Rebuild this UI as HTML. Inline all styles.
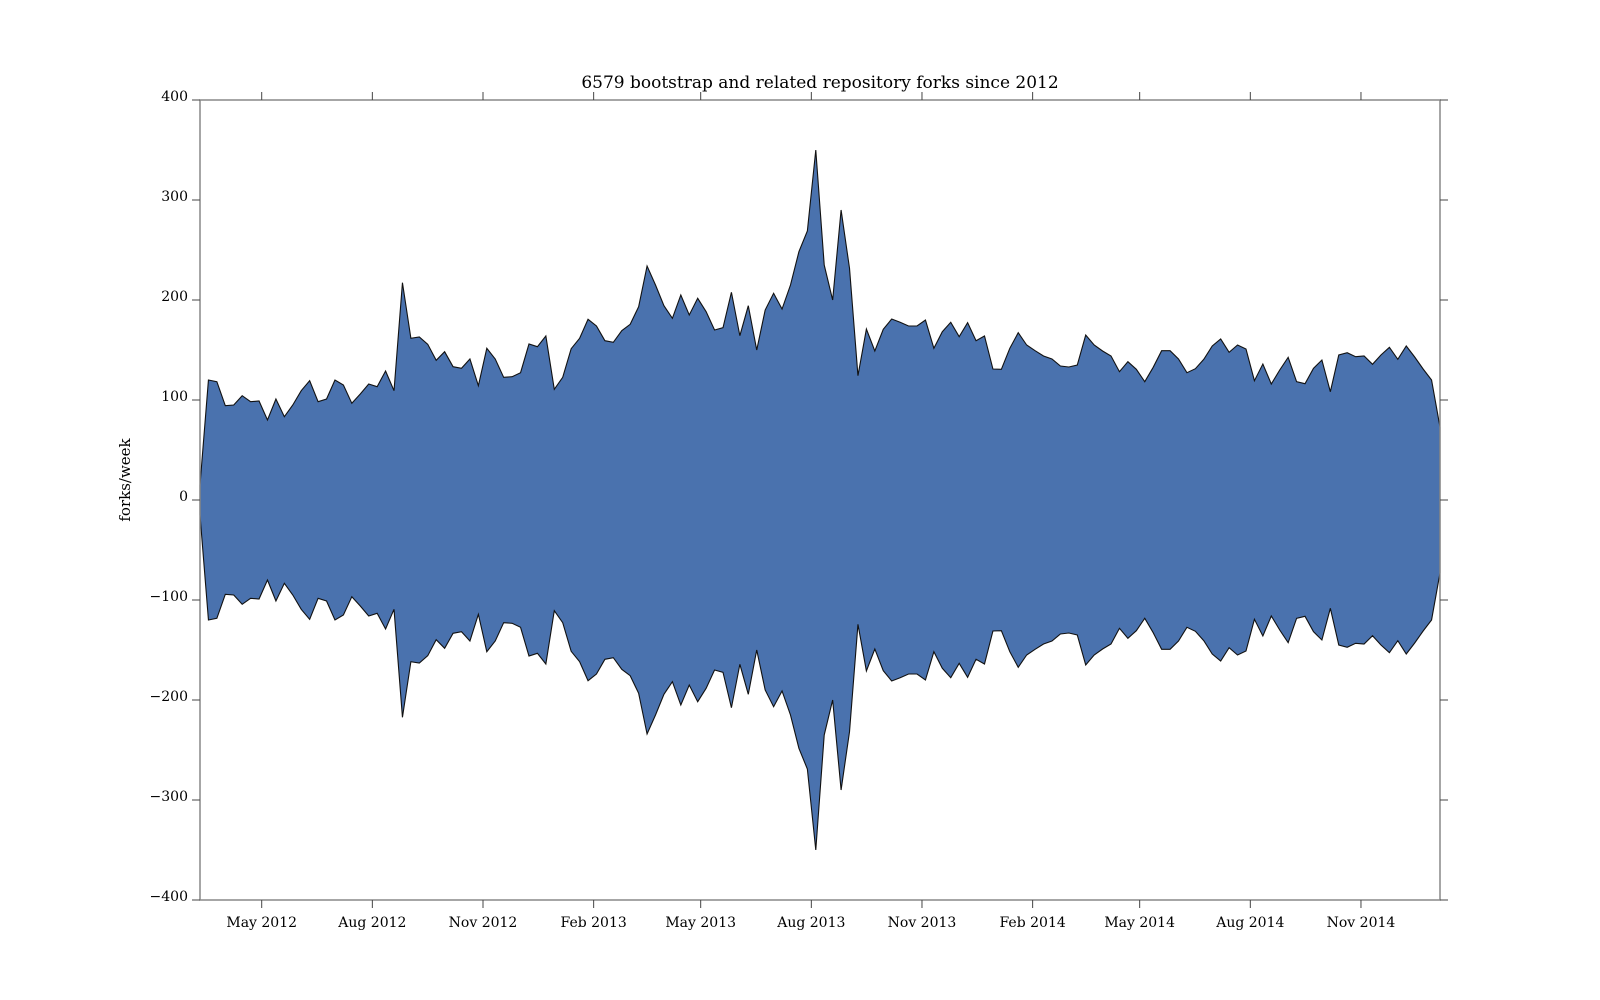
<!DOCTYPE html>
<html><head><meta charset="utf-8"><style>
body{margin:0;background:#fff;}
svg{display:block;font-family:"DejaVu Serif","Liberation Serif",serif;}
</style></head><body>
<svg id="chart" width="1600" height="1000" xmlns="http://www.w3.org/2000/svg">
<text x="820" y="88" text-anchor="middle" font-size="17">6579 bootstrap and related repository forks since 2012</text>
<text x="0" y="0" transform="translate(130,480) rotate(-90)" text-anchor="middle" font-size="15">forks/week</text>
<g id="plot"></g>
</svg>
<script>
const weeklyHalf = [15,120,118.3,94.3,95,104.3,98.3,99,80,101,83.3,95,109.3,119.3,98.3,101,120,115,96.7,106,116,113.3,129,109.3,217.3,161.7,163,155.7,139.7,148.3,133.3,131.7,141,114.3,151.7,141,122.7,123.3,127.3,156,153.3,164,110.7,122.7,151.3,161.7,180.7,174,159.3,157.7,169.3,175.7,193.3,234,215,194.3,181.7,205,185,201.7,188.3,170,172.3,207.7,164.3,194.3,150,190,206.7,191,215,248.3,269,350,235,200,290,231.7,124.3,171,149,170.7,181,177.7,174,174,180,151.7,168.3,177.7,163.3,177.3,159.3,164,131,130.7,151.7,167.3,155,149.3,144,141,134,133,135,165,155,149,144,128.3,138.3,130.7,118.3,132.7,149.3,149.3,141,127.3,131.3,140.7,154,161,147.7,155,151,119.3,136,116,130,142.7,118.3,116.3,131.7,140,108.3,145,147.3,143.3,144,135.7,145,152.7,140.7,154,143,131,120,73];
const yTicks = [400,300,200,100,0,-100,-200,-300,-400];
const xTickLabels = ["May 2012","Aug 2012","Nov 2012","Feb 2013","May 2013","Aug 2013","Nov 2013","Feb 2014","May 2014","Aug 2014","Nov 2014"];
const xTickDates = ["2012-05-01","2012-08-01","2012-11-01","2013-02-01","2013-05-01","2013-08-01","2013-11-01","2014-02-01","2014-05-01","2014-08-01","2014-11-01"];

const L=200,R=1440,T=100,B=900;
const NS="http://www.w3.org/2000/svg";
const g=document.getElementById('plot');
const yS=v=>500-v*(B-T)/800;
const xI=i=>L+i*(R-L)/(weeklyHalf.length-1);
const day0=Date.UTC(2012,4,1);
const xD=s=>{const p=s.split('-');return 261.7+(Date.UTC(+p[0],+p[1]-1,+p[2])-day0)/86400000*1.2027;};
function mk(tag,attrs){const e=document.createElementNS(NS,tag);for(const k in attrs)e.setAttribute(k,attrs[k]);g.appendChild(e);return e;}

let pts=weeklyHalf.map((v,i)=>xI(i).toFixed(2)+','+yS(v).toFixed(2));
let bot=weeklyHalf.map((v,i)=>xI(i).toFixed(2)+','+yS(-v).toFixed(2)).reverse();
const area=mk('polygon',{points:pts.concat(bot).join(' '),fill:'#4a72ae',stroke:'#111','stroke-width':1.1,'stroke-linejoin':'miter'});



const frame=mk('rect',{x:L,y:T,width:R-L,height:B-T,fill:'none',stroke:'#888','stroke-width':1.5});



yTicks.forEach(v=>{
  const y=yS(v);
  const t1=mk('line',{x1:L-8,x2:L,y1:y,y2:y,stroke:'#444','stroke-width':1});
  
  
  const t2=mk('line',{x1:R,x2:R+8,y1:y,y2:y,stroke:'#444','stroke-width':1});
  
  
  const tx=mk('text',{x:L-12,y:y+1,'text-anchor':'end','font-size':14});
  tx.textContent=(v<0?'\u2212':'')+Math.abs(v);
  
  
});
xTickDates.forEach((d,i)=>{
  const x=xD(d);
  const t1=mk('line',{x1:x,x2:x,y1:B,y2:B+8,stroke:'#444','stroke-width':1});
  
  
  const t2=mk('line',{x1:x,x2:x,y1:T-8,y2:T,stroke:'#444','stroke-width':1});
  
  
  const tx=mk('text',{x:x,y:927,'text-anchor':'middle','font-size':14});
  tx.textContent=xTickLabels[i];
  
  
});
</script>
</body></html>
